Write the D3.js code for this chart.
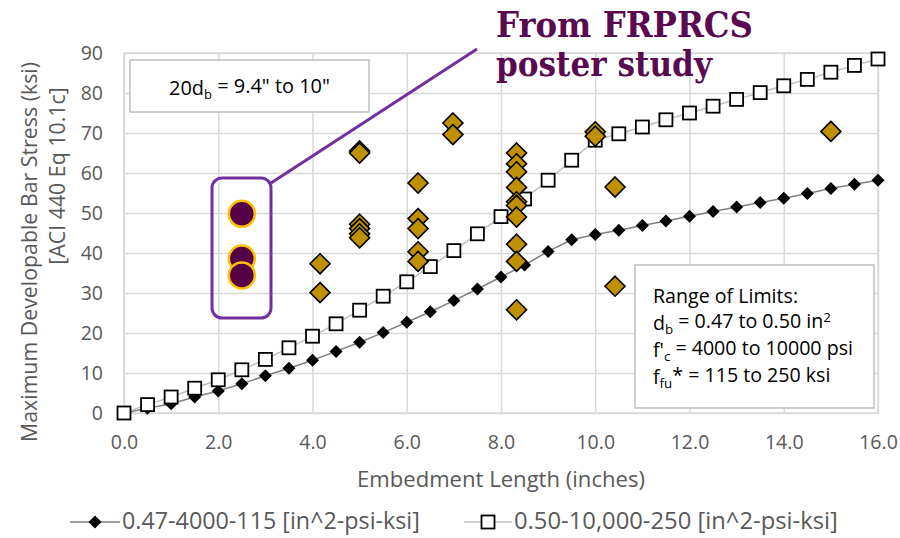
<!DOCTYPE html>
<html>
<head>
<meta charset="utf-8">
<script src="https://cdn.jsdelivr.net/npm/d3@7"></script>
<style>
  body { margin: 0; background: #fff; }
  svg { display: block; font-family: "Open Sans", Lato, sans-serif; }
</style>
</head>
<body>
<div id="app"></div>
<script>
const lengths = [0, 0.5, 1, 1.5, 2, 2.5, 3, 3.5, 4, 4.5, 5, 5.5, 6, 6.5, 7, 7.5, 8, 8.5,
    9, 9.5, 10, 10.5, 11, 11.5, 12, 12.5, 13, 13.5, 14, 14.5, 15, 15.5, 16]

// 0.47-4000-115
const stressLow = [0, 1.2, 2.3, 4.0, 5.5, 7.3, 9.3, 11.2, 13.2, 15.4, 17.7, 20.1, 22.7, 25.3, 28.1,
    31.0, 34.0, 37.0, 40.4, 43.3, 44.6, 45.7, 46.9, 48.0, 49.2, 50.4, 51.5, 52.6, 53.7, 54.9,
    56.1, 57.2, 58.2]

// 0.50-10,000-250
const stressHigh = [0, 2.1, 4.0, 6.2, 8.3, 10.8, 13.4, 16.3, 19.2, 22.3, 25.7, 29.2, 32.8, 36.6,
    40.6, 44.8, 49.1, 53.5, 58.2, 63.2, 68.2, 69.8, 71.5, 73.3, 75.0, 76.7, 78.4, 80.1, 81.8,
    83.4, 85.2, 86.9, 88.5]

// test results (gold diamonds)
const testLength = [4.16, 4.16, 5.0, 5.0, 5.0, 5.0, 5.0, 5.0, 6.24, 6.24, 6.24, 6.24, 6.24,
    6.98, 6.98, 8.33, 8.33, 8.33, 8.33, 8.33, 8.33, 8.33, 8.33, 8.33, 8.33,
    10.0, 10.0, 10.42, 10.42, 15.0]
const testStress = [37.3, 30.1, 65.5, 65.0, 47.2, 46.1, 44.8, 43.8, 57.5, 48.6, 46.1, 40.3, 37.9,
    72.5, 69.6, 65.0, 62.3, 60.3, 56.4, 52.8, 51.9, 49.0, 42.2, 37.9, 25.8,
    70.3, 69.2, 56.5, 31.7, 70.4]

// FRPRCS poster study (purple circles)
const posterLength = [2.5, 2.5, 2.5]
const posterStress = [49.8, 38.6, 34.4]

const xTicks = [0, 2, 4, 6, 8, 10, 12, 14, 16]
const yTicks = [0, 10, 20, 30, 40, 50, 60, 70, 80, 90]

const legendLabels = ['0.47-4000-115 [in^2-psi-ksi]', '0.50-10,000-250 [in^2-psi-ksi]']

const W = 900, H = 538
const margin = {top: 53, right: 22, bottom: 125, left: 124}
const iw = W - margin.left - margin.right
const ih = H - margin.top - margin.bottom

const textGray = '#595959'
const gridColor = '#d9d9d9'

// scale font-size so the text is as wide as in the picture
const fit = (sel, width) => {
    const fs = parseFloat(sel.attr('font-size'))
    const len = sel.node().getComputedTextLength()
    sel.attr('font-size', fs * width / len)
    return sel
}

const svg = d3.select('#app').append('svg')
    .attr('width', W)
    .attr('height', H)

const g = svg.append('g').attr('transform', `translate(${margin.left},${margin.top})`)

const x = d3.scaleLinear().domain([0, 16]).range([0, iw])
const y = d3.scaleLinear().domain([0, 90]).range([ih, 0])

// grid + axes
const xAxis = g.append('g')
    .attr('transform', `translate(0,${ih})`)
    .call(d3.axisBottom(x).tickValues(xTicks).tickSize(-ih).tickPadding(22).tickFormat(d3.format('.1f')))
const yAxis = g.append('g')
    .call(d3.axisLeft(y).tickValues(yTicks).tickSize(-iw).tickPadding(21).tickFormat(d3.format('d')))

for (const ax of [xAxis, yAxis]) {
    ax.select('.domain').remove()
    ax.selectAll('line').attr('stroke', gridColor).attr('stroke-width', 1.5)
    ax.selectAll('text').attr('fill', textGray).attr('font-size', 19.5).attr('font-family', '"Open Sans"')
}

g.append('rect')
    .attr('width', iw).attr('height', ih)
    .attr('fill', 'none').attr('stroke', gridColor).attr('stroke-width', 1.5)

// series
const line = d3.line().x(d => x(d[0])).y(d => y(d[1]))
const lowPts = lengths.map((l, i) => [l, stressLow[i]])
const highPts = lengths.map((l, i) => [l, stressHigh[i]])

g.append('path').datum(lowPts).attr('d', line)
    .attr('fill', 'none').attr('stroke', '#808080').attr('stroke-width', 1.5)
g.append('path').datum(highPts).attr('d', line)
    .attr('fill', 'none').attr('stroke', '#bfbfbf').attr('stroke-width', 1.5)

const diamond = r => `M0,${-r}L${r},0L0,${r}L${-r},0Z`

g.selectAll('.low').data(lowPts).join('path')
    .attr('class', 'low')
    .attr('transform', d => `translate(${x(d[0])},${y(d[1])})`)
    .attr('d', diamond(6.5))
    .attr('fill', '#000')

g.selectAll('.high').data(highPts).join('rect')
    .attr('class', 'high')
    .attr('x', d => x(d[0]) - 6.5).attr('y', d => y(d[1]) - 6.5)
    .attr('width', 13).attr('height', 13)
    .attr('fill', '#fff').attr('stroke', '#000').attr('stroke-width', 1.8)

g.selectAll('.test').data(testLength.map((l, i) => [l, testStress[i]])).join('path')
    .attr('class', 'test')
    .attr('transform', d => `translate(${x(d[0])},${y(d[1])})`)
    .attr('d', diamond(10))
    .attr('fill', '#bf9000').attr('stroke', '#000').attr('stroke-width', 1.6)

g.selectAll('.poster').data(posterLength.map((l, i) => [l, posterStress[i]])).join('circle')
    .attr('class', 'poster')
    .attr('cx', d => x(d[0])).attr('cy', d => y(d[1]))
    .attr('r', 13)
    .attr('fill', '#560048').attr('stroke', '#ffc000').attr('stroke-width', 2.5)

// poster callout
svg.append('line')
    .attr('x1', 271).attr('y1', 183).attr('x2', 477).attr('y2', 49)
    .attr('stroke', '#7030a0').attr('stroke-width', 3)
svg.append('rect')
    .attr('x', 212).attr('y', 178).attr('width', 59).attr('height', 140).attr('rx', 10)
    .attr('fill', 'none').attr('stroke', '#7030a0').attr('stroke-width', 3)

// 20db box
svg.append('rect')
    .attr('x', 130).attr('y', 60).attr('width', 239).attr('height', 52)
    .attr('fill', '#fff').attr('stroke', '#bfbfbf').attr('stroke-width', 1.5)
const t20 = svg.append('text').attr('x', 249.5).attr('y', 95)
    .attr('text-anchor', 'middle').attr('font-size', 18).attr('fill', '#000')
t20.append('tspan').text('20d')
t20.append('tspan').attr('font-size', '0.65em').attr('dy', '0.3em').text('b')
t20.append('tspan').attr('dy', '-0.3em').text(' = 9.4" to 10"')
fit(t20, 161)

// range of limits box
svg.append('rect')
    .attr('x', 635).attr('y', 265).attr('width', 239).attr('height', 143)
    .attr('fill', '#fff').attr('stroke', '#bfbfbf').attr('stroke-width', 1.5)
const rb = svg.append('g').attr('font-size', 18).attr('fill', '#000')
rb.append('text').attr('x', 653).attr('y', 303).text('Range of Limits:')
const r2 = rb.append('text').attr('x', 653).attr('y', 330)
r2.append('tspan').text('d')
r2.append('tspan').attr('font-size', '0.68em').attr('dy', '0.3em').text('b')
r2.append('tspan').attr('dy', '-0.3em').text(' = 0.47 to 0.50 in')
r2.append('tspan').attr('font-size', '0.68em').attr('dy', '-0.45em').text('2')
const r3 = rb.append('text').attr('x', 653).attr('y', 357)
r3.append('tspan').text("f'")
r3.append('tspan').attr('font-size', '0.68em').attr('dy', '0.3em').text('c')
r3.append('tspan').attr('dy', '-0.3em').text(' = 4000 to 10000 psi')
const r4 = rb.append('text').attr('x', 653).attr('y', 384)
r4.append('tspan').text('f')
r4.append('tspan').attr('font-size', '0.68em').attr('dy', '0.3em').text('fu')
r4.append('tspan').attr('dy', '-0.3em').text('* = 115 to 250 ksi')
rb.attr('font-size', 18 * 200 / r3.node().getComputedTextLength())

// title
const title = svg.append('g')
    .attr('font-family', '"DejaVu Serif", serif').attr('font-weight', 'bold')
    .attr('font-size', 36).attr('fill', '#5a0a50')
title.append('text').attr('x', 496).attr('y', 37)
    .attr('textLength', 257).attr('lengthAdjust', 'spacingAndGlyphs').text('From FRPRCS')
title.append('text').attr('x', 496).attr('y', 76)
    .attr('textLength', 216).attr('lengthAdjust', 'spacingAndGlyphs').text('poster study')

// axis titles
fit(svg.append('text')
    .attr('x', 501).attr('y', 487)
    .attr('text-anchor', 'middle').attr('font-size', 20).attr('fill', textGray)
    .text('Embedment Length (inches)'), 288)

const yTitle1 = fit(svg.append('text')
    .attr('transform', 'translate(37,252) rotate(-90)')
    .attr('text-anchor', 'middle').attr('font-size', 20).attr('fill', textGray)
    .text('Maximum Developable Bar Stress (ksi)'), 380)
svg.append('text')
    .attr('transform', 'translate(65,176) rotate(-90)')
    .attr('text-anchor', 'middle').attr('font-size', yTitle1.attr('font-size')).attr('fill', textGray)
    .text('[ACI 440 Eq 10.1c]')

// legend
const leg = svg.append('g').attr('transform', 'translate(0,522)')
leg.append('line').attr('x1', 70).attr('x2', 120).attr('stroke', '#808080').attr('stroke-width', 1.5)
leg.append('path').attr('transform', 'translate(95,0)').attr('d', diamond(6.5)).attr('fill', '#000')
fit(leg.append('text').attr('x', 122).attr('y', 7).attr('font-size', 20).attr('fill', textGray)
    .text(legendLabels[0]), 298)
leg.append('line').attr('x1', 464).attr('x2', 512).attr('stroke', '#bfbfbf').attr('stroke-width', 1.5)
leg.append('rect').attr('x', 481.5).attr('y', -6.5).attr('width', 13).attr('height', 13)
    .attr('fill', '#fff').attr('stroke', '#000').attr('stroke-width', 1.8)
fit(leg.append('text').attr('x', 514).attr('y', 7).attr('font-size', 20).attr('fill', textGray)
    .text(legendLabels[1]), 324)
</script>
</body>
</html>
